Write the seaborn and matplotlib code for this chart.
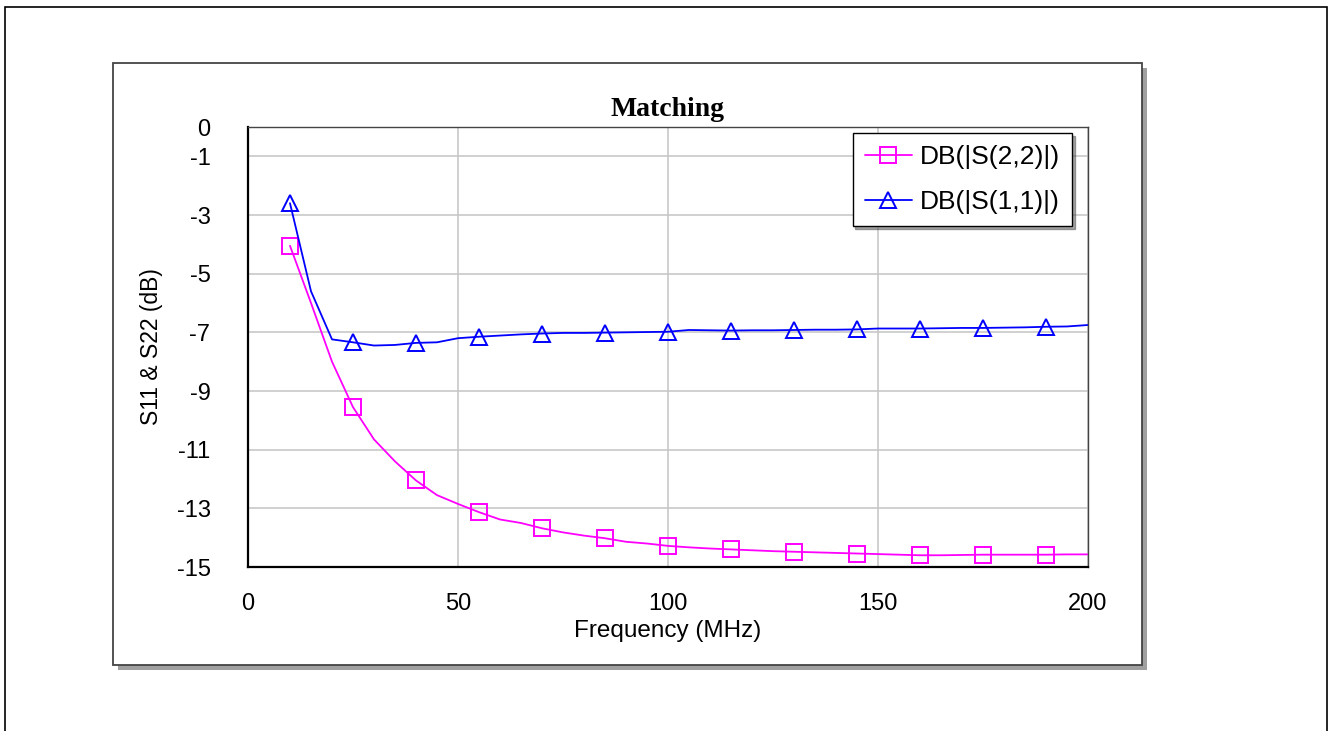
import numpy as np
import pandas as pd
import matplotlib
matplotlib.use("Agg")
import matplotlib.pyplot as plt
from matplotlib.patches import Rectangle
import seaborn as sns

# ── data ──────────────────────────────────────────────────────────────────────
freq = list(range(10, 205, 5))  # MHz
s11_db = [-2.60, -5.60, -7.24, -7.34, -7.45, -7.43, -7.36, -7.34, -7.20, -7.15,
          -7.11, -7.07, -7.04, -7.02, -7.02, -7.01, -7.00, -6.99, -6.98, -6.92,
          -6.93, -6.94, -6.93, -6.93, -6.92, -6.91, -6.91, -6.90, -6.87, -6.87,
          -6.87, -6.86, -6.85, -6.85, -6.84, -6.83, -6.81, -6.80, -6.75]
s22_db = [-4.05, -6.00, -8.00, -9.55, -10.65, -11.40, -12.05, -12.55, -12.85, -13.13,
          -13.38, -13.50, -13.68, -13.82, -13.93, -14.02, -14.14, -14.20, -14.28, -14.33,
          -14.37, -14.40, -14.43, -14.46, -14.48, -14.50, -14.52, -14.54, -14.56, -14.58,
          -14.60, -14.60, -14.59, -14.58, -14.58, -14.58, -14.58, -14.57, -14.57]
yticks = [0, -1, -3, -5, -7, -9, -11, -13, -15]
xticks = [0, 50, 100, 150, 200]

df = pd.DataFrame({"freq": freq, "s11": s11_db, "s22": s22_db})

sns.set_theme(style="white")
plt.rcParams["font.family"] = ["Liberation Sans", "DejaVu Sans"]
plt.rcParams["text.color"] = "black"
plt.rcParams["axes.labelcolor"] = "black"

W, H = 1330, 731
fig = plt.figure(figsize=(W / 100, H / 100), dpi=100)

# outer border + panel with shadow (pixel coords -> figure fraction)
def px_rect(x0, y0, x1, y1, **kw):
    return Rectangle((x0 / W, 1 - y1 / H), (x1 - x0) / W, (y1 - y0) / H,
                     transform=fig.transFigure, zorder=-5, **kw)

fig.patches.append(px_rect(5, 7, 1327, 760, fill=False, ec="black", lw=1.2))
fig.patches.append(px_rect(118, 68, 1147, 670, fc="#a0a0a0", ec="none"))
fig.patches.append(px_rect(113, 63, 1142, 665, fc="white", ec="#444444", lw=1.3))

ax = fig.add_axes([248 / W, 1 - 567 / H, 840 / W, 440 / H])
ax.set_facecolor("white")

mark = slice(0, None, 3)
sns.lineplot(data=df, x="freq", y="s22", ax=ax, color="#ff00ff", lw=1.3,
             marker="s", markersize=11, markevery=mark, markerfacecolor="none",
             markeredgecolor="#ff00ff", markeredgewidth=1.4, label="DB(|S(2,2)|)")
sns.lineplot(data=df, x="freq", y="s11", ax=ax, color="#0000ff", lw=1.3,
             marker="^", markersize=12, markevery=mark, markerfacecolor="none",
             markeredgecolor="#0000ff", markeredgewidth=1.4, label="DB(|S(1,1)|)")

ax.set_xlim(0, 200); ax.set_ylim(-15, 0)
ax.set_xticks(xticks); ax.set_yticks(yticks)
ax.set_xticklabels([str(v) for v in xticks]); ax.set_yticklabels([str(v) for v in yticks])
ax.grid(True, color="#c4c4c4", lw=1.1)
ax.set_axisbelow(True)
ax.tick_params(axis="both", length=0, labelsize=17, colors="black")
ax.tick_params(axis="y", pad=27)
ax.tick_params(axis="x", pad=19)
for side in ["left", "bottom"]:
    ax.spines[side].set_color("black"); ax.spines[side].set_linewidth(1.6)
for side in ["top", "right"]:
    ax.spines[side].set_color("#444444"); ax.spines[side].set_linewidth(1.0)

ax.set_xlabel("Frequency (MHz)", fontsize=17.5, labelpad=3)
ax.set_ylabel("S11 & S22 (dB)", fontsize=16.5, labelpad=10)
ax.set_title("Matching", fontsize=20, fontweight="bold", family=["Liberation Serif"], pad=8)

leg = ax.legend(loc="upper right", bbox_to_anchor=(1072 / W, 1 - 133 / H),
                bbox_transform=fig.transFigure, borderaxespad=0, fontsize=19,
                frameon=True, fancybox=False, shadow=True, edgecolor="black",
                handlelength=1.8, handletextpad=0.3, labelspacing=0.8, borderpad=0.45,
                framealpha=1)
leg.get_frame().set_linewidth(1.0)

fig.savefig("out.png", dpi=100)
